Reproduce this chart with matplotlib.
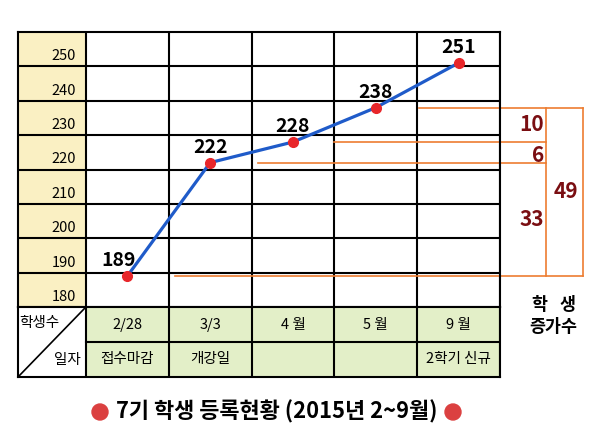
import matplotlib
matplotlib.use("Agg")
import matplotlib.pyplot as plt
from matplotlib.patches import Ellipse

plt.rcParams['font.family'] = ['Noto Sans CJK KR', 'DejaVu Sans']

# ---- data ----
dates = ["2/28", "3/3", "4 월", "5 월", "9 월"]
notes = ["접수마감", "개강일", "", "", "2학기 신규"]
students = [189, 222, 228, 238, 251]
y_ticks = [180, 190, 200, 210, 220, 230, 240, 250]
title = "7기 학생 등록현황 (2015년 2~9월)"

W, H = 600, 446
YELLOW = "#FAF0C3"
GREEN = "#E3EFC8"
ORANGE = "#ED7D31"
DARKRED = "#7A0E12"
BLUE = "#1F5BC9"
RED = "#E8262A"
LW = 1.5

fig = plt.figure(figsize=(W / 100, H / 100), dpi=100)
fig.patch.set_facecolor("white")

def fx(px):
    return px / W

def fy(py):
    return 1 - py / H

# ---- main chart axes ----
ax = fig.add_axes([fx(18), fy(307), (500 - 18) / W, (307 - 32) / H])
ax.set_xlim(-0.82, 5)
ax.set_ylim(180, 260)
ax.axvspan(-0.82, 0, color=YELLOW, zorder=0, lw=0)
for x in range(0, 6):
    ax.axvline(x, color="black", lw=LW, zorder=1)
for v in y_ticks[1:]:
    ax.axhline(v, color="black", lw=LW, zorder=1)
for s in ax.spines.values():
    s.set_linewidth(LW)
ax.set_xticks([])
ax.set_yticks([])
for v in y_ticks:
    ax.text(-0.12, v + 0.9, str(v), ha="right", va="bottom", fontsize=10.5)

xs = [i + 0.5 for i in range(len(students))]
ax.plot(xs, students, color=BLUE, lw=2.3, zorder=3, solid_capstyle="round")
ax.plot(xs, students, 'o', color=RED, ms=7, zorder=4)
for i, (x, v) in enumerate(zip(xs, students)):
    dx = -9 if i == 0 else 0
    ax.annotate(str(v), (x, v), xytext=(dx * 0.72, 11), textcoords="offset points",
                ha="center", va="center", fontsize=14, fontweight="bold", zorder=5)

# ---- orange brackets ----
ok = dict(color=ORANGE, lw=1.2, clip_on=False, zorder=2)
ax.plot([1.075, 6.0], [students[0]] * 2, **ok)
ax.plot([2.08, 5.556], [students[1]] * 2, **ok)
ax.plot([3.0, 5.556], [students[2]] * 2, **ok)
ax.plot([4.02, 6.0], [students[3]] * 2, **ok)
ax.plot([5.556, 5.556], [students[0], students[3]], **ok)
ax.plot([6.0, 6.0], [students[0], students[3]], **ok)

d1 = students[3] - students[2]
d2 = students[2] - students[1]
d3 = students[1] - students[0]
d4 = students[3] - students[0]
nk = dict(color=DARKRED, fontsize=15, fontweight="bold", va="center", clip_on=False)
ax.text(5.53, (students[2] + students[3]) / 2, str(d1), ha="right", **nk)
ax.text(5.53, (students[1] + students[2]) / 2 - 0.8, str(d2), ha="right", **nk)
ax.text(5.53, (students[0] + students[1]) / 2, str(d3), ha="right", **nk)
ax.text(5.80, (students[0] + students[3]) / 2, str(d4), ha="center", **nk)

fig.text(fx(553.5), fy(305), "학   생", ha="center", va="center", fontsize=12.5, fontweight="bold")
fig.text(fx(553.5), fy(327), "증가수", ha="center", va="center", fontsize=12.5, fontweight="bold")

# ---- bottom table ----
tax = fig.add_axes([fx(18), fy(377), (500 - 18) / W, (377 - 307) / H])
tax.set_xlim(-0.82, 5)
tax.set_ylim(0, 2)
tax.axvspan(0, 5, color=GREEN, zorder=0, lw=0)
for x in range(0, 6):
    tax.axvline(x, color="black", lw=LW, zorder=1)
tax.plot([0, 5], [1, 1], color="black", lw=LW, zorder=1)
tax.plot([-0.82, 0], [0, 2], color="black", lw=1.2, zorder=1)
for s in tax.spines.values():
    s.set_linewidth(LW)
tax.set_xticks([])
tax.set_yticks([])
for i, (d, n) in enumerate(zip(dates, notes)):
    tax.text(i + 0.5, 1.5, d, ha="center", va="center", fontsize=10.5)
    if n:
        tax.text(i + 0.5, 0.5, n, ha="center", va="center", fontsize=10.5)
tax.text(-0.80, 1.55, "학생수", ha="left", va="center", fontsize=10.5)
tax.text(-0.06, 0.48, "일자", ha="right", va="center", fontsize=10.5)

# ---- title ----
fig.text(fx(276.5), fy(412), title, ha="center", va="center", fontsize=15.8, fontweight="bold")
for cx in (100, 453):
    fig.patches.append(Ellipse((fx(cx), fy(412)), 16 / W, 16 / H, transform=fig.transFigure,
                               color="#DB4040", figure=fig))

fig.savefig("out.png", dpi=100)
